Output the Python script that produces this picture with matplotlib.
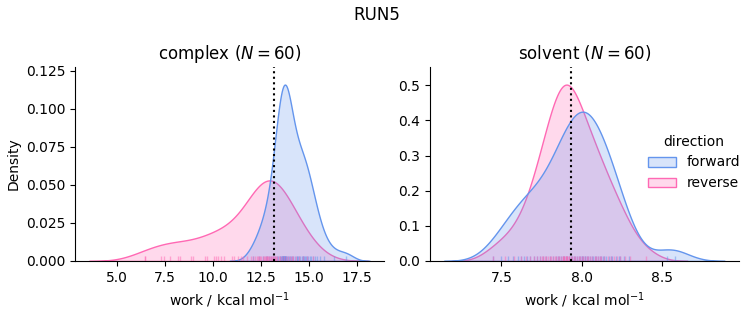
import matplotlib
matplotlib.use('Agg')
import matplotlib.pyplot as plt
import numpy as np
import pandas as pd
import seaborn as sns

# work values (kcal/mol), 60 per direction per phase
complex_forward = [
    12.10, 12.40, 12.60, 12.75, 12.85, 12.95, 13.05, 13.15, 13.25, 13.35,
    13.42, 13.48, 13.52, 13.55, 13.58, 13.60, 13.62, 13.64, 13.66, 13.68,
    13.70, 13.72, 13.74, 13.76, 13.78, 13.80, 13.83, 13.86, 13.90, 13.95,
    14.00, 14.06, 14.12, 14.20, 14.28, 14.36, 14.44, 14.50, 14.56, 14.62,
    14.68, 14.74, 14.80, 14.86, 14.92, 14.98, 15.05, 15.12, 15.20, 15.30,
    15.45, 15.60, 15.80, 16.30, 16.95, 13.65, 13.71, 13.75, 14.40, 14.70]
complex_reverse = [
    6.45, 6.50, 7.30, 7.45, 7.80, 8.20, 8.30, 8.85, 8.95, 9.60,
    9.70, 10.05, 10.15, 10.25, 10.45, 10.60, 11.00, 11.10, 11.30, 11.45,
    11.60, 11.80, 12.00, 12.10, 12.20, 12.30, 12.35, 12.40, 12.45, 12.50,
    12.60, 12.65, 12.70, 12.75, 12.80, 12.85, 12.90, 12.95, 13.00, 13.05,
    13.10, 13.15, 13.20, 13.25, 13.30, 13.35, 13.45, 13.50, 13.60, 13.70,
    13.80, 13.90, 14.00, 14.10, 14.20, 14.35, 14.50, 14.70, 14.90, 15.20]
solvent_forward = [
    7.45, 7.50, 7.54, 7.57, 7.60, 7.62, 7.64, 7.66, 7.68, 7.70,
    7.72, 7.74, 7.76, 7.78, 7.80, 7.82, 7.84, 7.86, 7.87, 7.88,
    7.89, 7.90, 7.91, 7.92, 7.93, 7.94, 7.95, 7.96, 7.97, 7.98,
    7.99, 8.00, 8.01, 8.02, 8.03, 8.04, 8.05, 8.06, 8.07, 8.08,
    8.09, 8.10, 8.11, 8.12, 8.13, 8.14, 8.15, 8.17, 8.19, 8.21,
    8.23, 8.26, 8.29, 8.02, 8.00, 7.85, 8.18, 8.24, 8.53, 8.58]
solvent_reverse = [
    7.45, 7.52, 7.58, 7.62, 7.65, 7.68, 7.70, 7.72, 7.74, 7.75,
    7.76, 7.77, 7.78, 7.79, 7.80, 7.81, 7.82, 7.83, 7.84, 7.85,
    7.86, 7.87, 7.88, 7.89, 7.89, 7.90, 7.91, 7.91, 7.92, 7.93,
    7.94, 7.95, 7.96, 7.97, 7.98, 7.99, 8.00, 8.01, 8.02, 8.03,
    8.04, 8.05, 8.06, 8.08, 8.09, 8.10, 8.11, 8.12, 8.14, 8.16,
    8.18, 8.20, 8.22, 8.24, 8.27, 8.30, 7.90, 7.92, 7.88, 8.40]

# free energy estimates (dotted lines)
estimates = {'complex': 13.18, 'solvent': 7.935}
palette = {'forward': 'cornflowerblue', 'reverse': 'hotpink'}

series = [('complex', 'forward', complex_forward), ('complex', 'reverse', complex_reverse),
          ('solvent', 'forward', solvent_forward), ('solvent', 'reverse', solvent_reverse)]
df = pd.concat([pd.DataFrame({'work': v, 'direction': d, 'phase': p}) for p, d, v in series],
               ignore_index=True)

g = sns.displot(df, x='work', hue='direction', col='phase', kind='kde', rug=True, fill=True,
                palette=palette, hue_order=['forward', 'reverse'], col_order=['complex', 'solvent'],
                rug_kws=dict(alpha=0.5),
                facet_kws=dict(sharex=False, sharey=False), height=3, aspect=1.1)
fig = g.figure
fig.set_size_inches(7.53, 3.25)
fig.subplots_adjust(left=0.0996, right=0.981, bottom=0.197, top=0.794, wspace=0.149)

for ax, phase in zip(g.axes.flat, ['complex', 'solvent']):
    n = len(df[(df['phase'] == phase) & (df['direction'] == 'forward')])
    ax.set_title(f'{phase} ($N={n}$)', fontsize=12)
    ax.axvline(estimates[phase], color='k', ls=':', lw=1.5)
    ax.set_xlabel('work / kcal mol$^{-1}$')
g.axes.flat[0].set_ylabel('Density')
fig.suptitle('RUN5', fontsize=12)

fig.savefig('out.png', dpi=100)
